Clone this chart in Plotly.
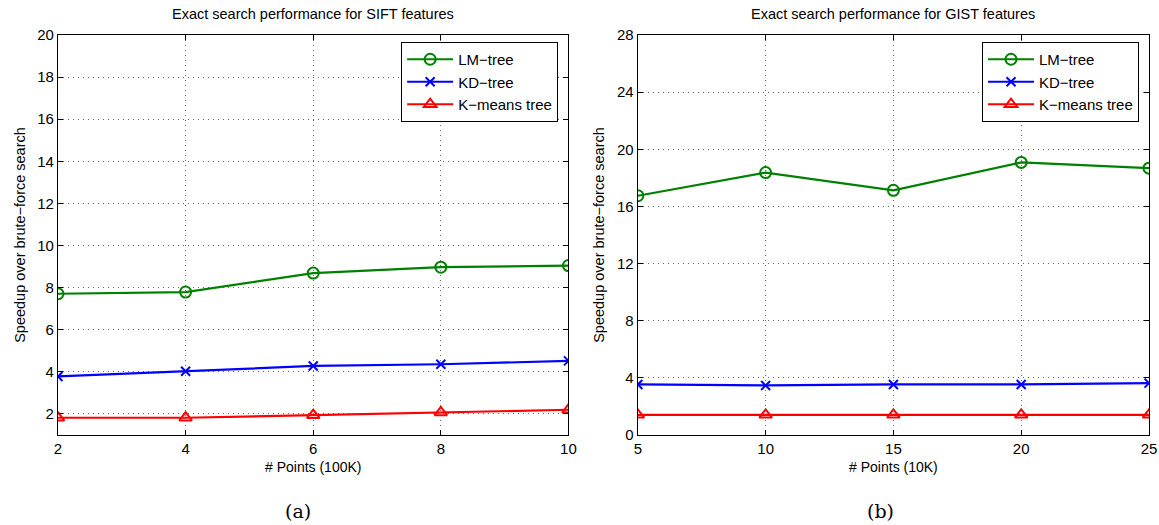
import plotly.graph_objects as go

# Data
sift_x = [2, 4, 6, 8, 10]
sift_lm = [7.71, 7.79, 8.69, 8.97, 9.05]
sift_kd = [3.78, 4.03, 4.28, 4.36, 4.52]
sift_km = [1.82, 1.82, 1.94, 2.07, 2.20]

gist_x = [5, 10, 15, 20, 25]
gist_lm = [16.75, 18.37, 17.13, 19.08, 18.68]
gist_kd = [3.54, 3.47, 3.54, 3.54, 3.63]
gist_km = [1.41, 1.41, 1.41, 1.41, 1.41]

series_names = ["LM\u2212tree", "KD\u2212tree", "K\u2212means tree"]
colors = ["#008000", "#0000ff", "#ff0000"]
symbols = ["circle-open", "x-thin-open", "triangle-up-open"]
sizes = [11, 9, 11]

FONT = "Liberation Sans, Arial, sans-serif"

W, H = 1159, 525

fig = go.Figure()


def add_series(xs, ys_list, xaxis, yaxis, legend):
    for name, ys, c, s, sz in zip(series_names, ys_list, colors, symbols, sizes):
        fig.add_trace(go.Scatter(
            x=xs, y=ys, name=name, mode="lines+markers",
            line=dict(color=c, width=2.2),
            marker=dict(symbol=s, size=sz, color=c, line=dict(color=c, width=2)),
            xaxis=xaxis, yaxis=yaxis, legend=legend,
        ))


add_series(sift_x, [sift_lm, sift_kd, sift_km], "x", "y", "legend")
add_series(gist_x, [gist_lm, gist_kd, gist_km], "x2", "y2", "legend2")

# plot-area geometry in screen pixels
L, R, T, B = 57.7, 1149, 35, 434.7
PW = R - L
PH = B - T


def fx(px):
    return (px - L) / PW


def fy(py):
    return (B - py) / PH


axis_common = dict(
    showline=True, linecolor="black", linewidth=1.3, mirror="ticks",
    ticks="inside", ticklen=5, tickcolor="black", tickwidth=1,
    showgrid=True, gridcolor="#666666", griddash="1px,4px", gridwidth=1,
    zeroline=False, automargin=False,
    tickfont=dict(family=FONT, size=15, color="black"),
)
xtitle_font = dict(family=FONT, size=14, color="black")
ytitle_font = dict(family=FONT, size=14.5, color="black")
title_font = dict(family=FONT, size=14.5, color="black")

legend_common = dict(
    xanchor="right", yanchor="top", xref="paper", yref="paper",
    bgcolor="white", bordercolor="black", borderwidth=1,
    font=dict(family=FONT, size=15, color="black"), tracegroupgap=0,
    itemwidth=46,
)

fig.update_layout(
    template="none",
    width=W, height=H,
    margin=dict(l=L, r=(W - R), t=T, b=(H - B), pad=0),
    paper_bgcolor="white", plot_bgcolor="white",
    showlegend=True,
    xaxis=dict(domain=[0, fx(568.3)], range=[2, 10], tickvals=sift_x, anchor="y",
               title=dict(text="# Points (100K)", standoff=6, font=xtitle_font), **axis_common),
    yaxis=dict(domain=[0, 1], range=[1, 20], tickvals=list(range(2, 21, 2)), anchor="x",
               title=dict(text="Speedup over brute\u2212force search", standoff=8,
                          font=ytitle_font), **axis_common),
    xaxis2=dict(domain=[fx(637.7), 1], range=[5, 25], tickvals=gist_x, anchor="y2",
                title=dict(text="# Points (10K)", standoff=6, font=xtitle_font), **axis_common),
    yaxis2=dict(domain=[0, 1], range=[0, 28], tickvals=list(range(0, 29, 4)), anchor="x2",
                title=dict(text="Speedup over brute\u2212force search", standoff=8,
                           font=ytitle_font), **axis_common),
    legend=dict(x=fx(558), y=fy(42), **legend_common),
    legend2=dict(x=fx(1139), y=fy(42), **legend_common),
    annotations=[
        dict(text="Exact search performance for SIFT features", x=fx(313), y=fy(14),
             xref="paper", yref="paper", xanchor="center", yanchor="middle", showarrow=False,
             font=title_font),
        dict(text="Exact search performance for GIST features", x=fx(893), y=fy(14),
             xref="paper", yref="paper", xanchor="center", yanchor="middle", showarrow=False,
             font=title_font),
        dict(text="(a)", x=fx(298), y=fy(511), xref="paper", yref="paper",
             xanchor="center", yanchor="middle",
             showarrow=False, font=dict(family="DejaVu Serif, serif", size=19, color="black")),
        dict(text="(b)", x=fx(880), y=fy(511), xref="paper", yref="paper",
             xanchor="center", yanchor="middle",
             showarrow=False, font=dict(family="DejaVu Serif, serif", size=19, color="black")),
    ],
)

# remove the default page margin so the figure sits exactly in the window
fig.write_html(
    "out.html",
    config={"displayModeBar": False},
    post_script="document.body.style.margin='0';document.body.style.overflow='hidden';",
)
